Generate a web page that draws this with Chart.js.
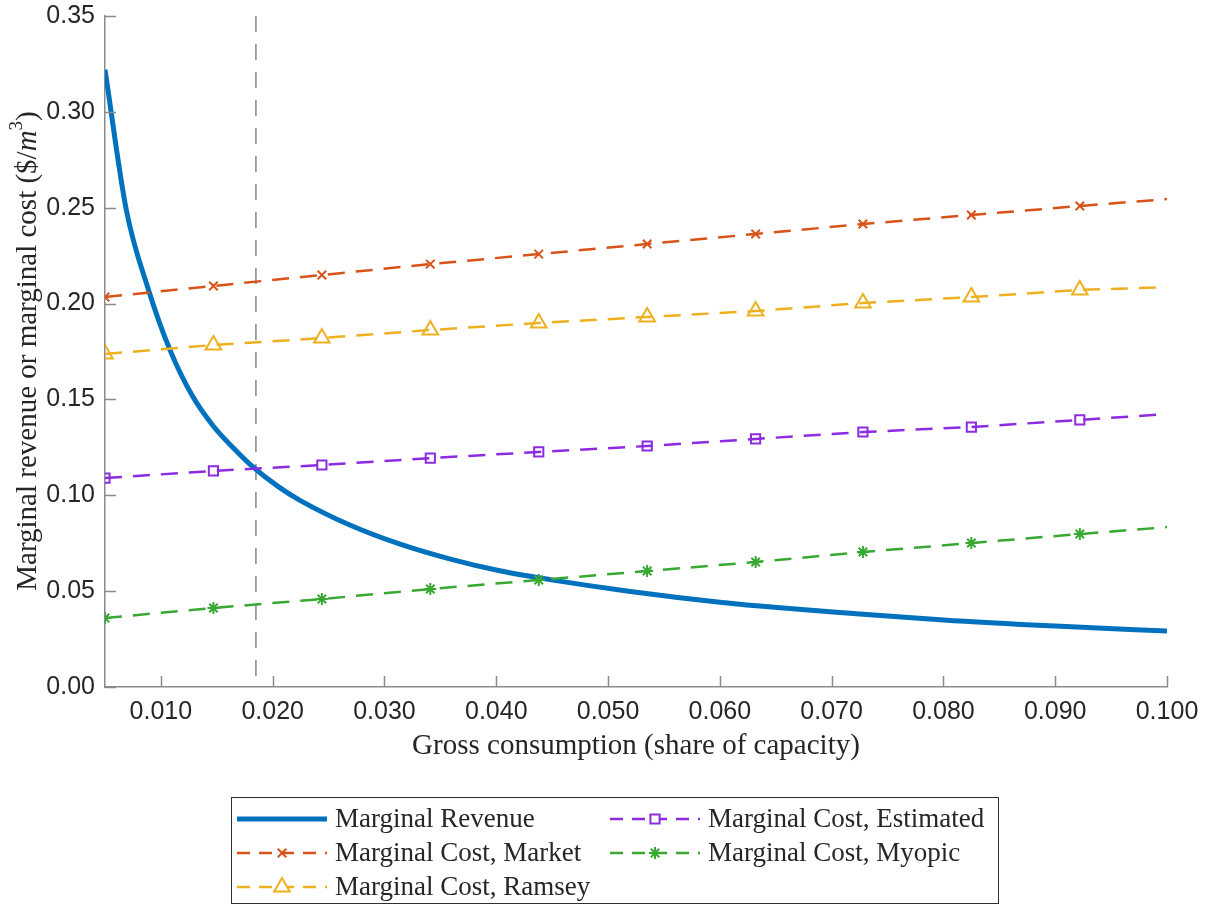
<!DOCTYPE html>
<html>
<head>
<meta charset="utf-8">
<script src="https://cdn.jsdelivr.net/npm/chart.js@4.4.1/dist/chart.umd.min.js"></script>
<style>
  html, body { margin: 0; padding: 0; background: #fff; }
</style>
</head>
<body>
<canvas id="mr-chart" width="1211" height="905"></canvas>
<script>
// marker positions of the cost curves (share of capacity); last entry is the line end
const markerX = [0.0050, 0.0147, 0.0244, 0.0341, 0.0438, 0.0535, 0.0632, 0.0728, 0.0825, 0.0922, 0.1000];
const costMarket    = [0.2034, 0.2092, 0.2149, 0.2206, 0.2258, 0.2311, 0.2363, 0.2415, 0.2462, 0.2509, 0.2545];
const costRamsey    = [0.1737, 0.1784, 0.1820, 0.1862, 0.1899, 0.1930, 0.1961, 0.2003, 0.2034, 0.2071, 0.2086];
const costEstimated = [0.1090, 0.1127, 0.1158, 0.1194, 0.1226, 0.1257, 0.1294, 0.1330, 0.1356, 0.1393, 0.1424];
const costMyopic    = [0.0360, 0.0412, 0.0459, 0.0511, 0.0558, 0.0605, 0.0652, 0.0704, 0.0751, 0.0798, 0.0834];

// marginal revenue curve
const revenueX = [0.0050, 0.0069, 0.0089, 0.0108, 0.0128, 0.0147, 0.0166, 0.0180, 0.0205, 0.0224, 0.0269, 0.0314, 0.0359, 0.0403, 0.0448, 0.0520, 0.0600, 0.0654, 0.0800, 0.0900, 0.1000];
const revenueY = [0.322, 0.249, 0.207, 0.176, 0.152, 0.136, 0.124, 0.116, 0.1045, 0.0975, 0.0845, 0.0745, 0.0667, 0.0606, 0.0560, 0.0498, 0.0442, 0.0413, 0.0350, 0.0318, 0.0292];

// vertical reference line
const thresholdX = 0.0185;

const xTicks = [0.010, 0.020, 0.030, 0.040, 0.050, 0.060, 0.070, 0.080, 0.090, 0.100];
const yTicks = [0.00, 0.05, 0.10, 0.15, 0.20, 0.25, 0.30, 0.35];

const serif = '"Liberation Serif", "Times New Roman", serif';
const sans = '"Liberation Sans", Arial, sans-serif';
const inkColor = '#262626';
const axisColor = '#8a8a8a';
const dash = [17, 11];

function pairs(xs, ys) {
  return xs.map((x, i) => ({ x: x, y: ys[i] }));
}
// markers on every sample except the line end
function markerRadius(r) {
  return markerX.map((x, i) => (i === markerX.length - 1 ? 0 : r));
}

const series = [
  { label: 'Marginal Revenue', color: '#0072BD', width: 5, dashed: false, style: false, radius: 0, x: revenueX, y: revenueY },
  { label: 'Marginal Cost, Estimated', color: '#8C2BE0', width: 2.5, dashed: true, style: 'rect', radius: 6.5, x: markerX, y: costEstimated },
  { label: 'Marginal Cost, Market', color: '#D95319', width: 2.5, dashed: true, style: 'crossRot', radius: 6, x: markerX, y: costMarket },
  { label: 'Marginal Cost, Myopic', color: '#38A832', width: 2.5, dashed: true, style: 'star', radius: 6, x: markerX, y: costMyopic },
  { label: 'Marginal Cost, Ramsey', color: '#EDB120', width: 2.5, dashed: true, style: 'triangle', radius: 9, x: markerX, y: costRamsey }
];

const datasets = series.map((s, i) => ({
  label: s.label,
  data: pairs(s.x, s.y),
  borderColor: s.color,
  backgroundColor: 'rgba(0,0,0,0)',
  borderWidth: s.width,
  borderDash: s.dashed ? dash : [],
  pointStyle: s.style,
  pointRadius: s.style ? markerRadius(s.radius) : 0,
  pointBorderWidth: 2,
  pointBorderColor: s.color,
  pointBackgroundColor: 'rgba(0,0,0,0)',
  cubicInterpolationMode: s.dashed ? 'default' : 'monotone',
  fill: false,
  order: i === 0 ? 10 : 1
}));

// drawn top-down so the dash pattern starts at the top of the axes
datasets.push({
  label: 'threshold',
  data: [{ x: thresholdX, y: 0.35 }, { x: thresholdX, y: 0 }],
  borderColor: '#9a9a9a',
  borderWidth: 1.8,
  borderDash: [16, 12],
  pointRadius: 0,
  fill: false,
  order: 20
});

// inward tick marks, axis titles and the boxed legend
const decorations = {
  id: 'decorations',
  afterDraw(chart) {
    const ctx = chart.ctx;
    const xs = chart.scales.x;
    const ys = chart.scales.y;
    const area = chart.chartArea;

    ctx.save();
    ctx.strokeStyle = axisColor;
    ctx.lineWidth = 1.5;
    ctx.beginPath();
    xTicks.forEach(v => {
      const px = Math.round(xs.getPixelForValue(v)) + 0.5;
      ctx.moveTo(px, area.bottom);
      ctx.lineTo(px, area.bottom - 11);
    });
    yTicks.forEach(v => {
      const py = Math.round(ys.getPixelForValue(v)) + 0.5;
      ctx.moveTo(area.left, py);
      ctx.lineTo(area.left + 11, py);
    });
    ctx.stroke();

    // x title
    ctx.fillStyle = inkColor;
    ctx.font = '29px ' + serif;
    ctx.textAlign = 'center';
    ctx.textBaseline = 'middle';
    ctx.fillText('Gross consumption (share of capacity)', (area.left + area.right) / 2, 746);

    // y title with italic unit and superscript
    const parts = [
      { t: 'Marginal revenue or marginal cost ($/', f: '29px ' + serif, dy: 0 },
      { t: 'm', f: 'italic 29px ' + serif, dy: 0 },
      { t: '3', f: '19px ' + serif, dy: -11 },
      { t: ')', f: '29px ' + serif, dy: 0 }
    ];
    let total = 0;
    parts.forEach(p => { ctx.font = p.f; p.w = ctx.measureText(p.t).width; total += p.w; });
    ctx.translate(28, 351);
    ctx.rotate(-Math.PI / 2);
    ctx.textAlign = 'left';
    let cx = -total / 2;
    parts.forEach(p => {
      ctx.font = p.f;
      ctx.fillText(p.t, cx, p.dy);
      cx += p.w;
    });
    ctx.setTransform(1, 0, 0, 1, 0, 0);

    // legend box
    ctx.strokeStyle = '#303030';
    ctx.lineWidth = 1;
    ctx.strokeRect(231.5, 797.5, 767, 106);

    const slots = [
      { col: 0, row: 0 }, { col: 1, row: 0 },
      { col: 0, row: 1 }, { col: 1, row: 1 },
      { col: 0, row: 2 }
    ];
    const colX = [237, 610];
    const rowY = [819, 853, 887];
    series.forEach((s, i) => {
      const x0 = colX[slots[i].col];
      const y0 = rowY[slots[i].row];
      ctx.strokeStyle = s.color;
      ctx.lineWidth = s.dashed ? 2.5 : 5;
      ctx.setLineDash(s.dashed ? [13, 9] : []);
      ctx.beginPath();
      ctx.moveTo(x0, y0);
      ctx.lineTo(x0 + 90, y0);
      ctx.stroke();
      ctx.setLineDash([]);
      if (s.style) {
        ctx.fillStyle = s.style === 'star' ? s.color : '#ffffff';
        ctx.lineWidth = 2;
        Chart.helpers.drawPoint(ctx, { pointStyle: s.style, radius: s.radius, borderWidth: 2, rotation: 0 }, x0 + 45, y0);
      }
      ctx.fillStyle = inkColor;
      ctx.font = '27px ' + serif;
      ctx.textAlign = 'left';
      ctx.textBaseline = 'middle';
      ctx.fillText(s.label, x0 + 98, y0 + 1);
    });
    ctx.restore();
  }
};

new Chart(document.getElementById('mr-chart'), {
  type: 'line',
  data: { datasets: datasets },
  options: {
    responsive: false,
    animation: false,
    devicePixelRatio: 1,
    layout: { padding: { top: 16, right: 44, left: 0, bottom: 0 } },
    plugins: {
      legend: { display: false },
      title: { display: false },
      tooltip: { enabled: false }
    },
    scales: {
      x: {
        type: 'linear',
        min: 0.005,
        max: 0.1,
        afterBuildTicks: s => { s.ticks = xTicks.map(v => ({ value: v })); },
        afterFit: s => { s.height = 905 - 687; },
        grid: { display: false, drawTicks: false },
        border: { display: true, color: axisColor, width: 1.5 },
        ticks: {
          autoSkip: false,
          maxRotation: 0,
          padding: 10,
          color: inkColor,
          font: { family: sans, size: 25 },
          callback: v => Number(v).toFixed(3)
        }
      },
      y: {
        type: 'linear',
        min: 0,
        max: 0.35,
        afterBuildTicks: s => { s.ticks = yTicks.map(v => ({ value: v })); },
        afterFit: s => { s.width = 105; s.paddingTop = 0; s.paddingBottom = 0; },
        grid: { display: false, drawTicks: false },
        border: { display: true, color: axisColor, width: 1.5 },
        ticks: {
          autoSkip: false,
          padding: 10,
          color: inkColor,
          font: { family: sans, size: 25 },
          callback: v => Number(v).toFixed(2)
        }
      }
    }
  },
  plugins: [decorations]
});
</script>
</body>
</html>
